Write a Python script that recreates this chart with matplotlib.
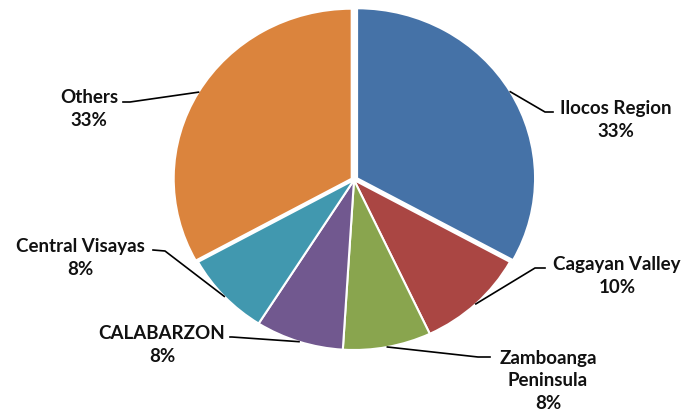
import matplotlib.pyplot as plt
import numpy as np

regions = ['Ilocos Region', 'Cagayan Valley', 'Zamboanga\nPeninsula',
           'CALABARZON', 'Central Visayas', 'Others']
shares = [33, 10, 8, 8, 8, 33]
colors = ['#4572A7', '#AA4643', '#89A54E', '#71588F', '#4198AF', '#DB843D']
explode = [0.02, 0, 0, 0, 0, 0.015]

# label layout in image pixels (x from left, y from top): text centre, elbow point
text_px = [(616, 120), (617, 276), (548, 381), (162, 345), (80, 258), (89, 109)]
elbow_px = [(545, 112), (535, 268), (478, 357), (232, 337), (165, 251), (130, 102)]
end_px = [(553, 112), (545, 268), (490, 357), (230, 337), (153, 250), (123, 102)]

W, H = 690, 420
cx, cy, rx, ry = 354, 180, 178, 170

fig = plt.figure(figsize=(6.9, 4.2), dpi=100)
ax = fig.add_axes([(cx - rx) / W, (H - cy - ry) / H, 2 * rx / W, 2 * ry / H])

wedges, _ = ax.pie(shares, colors=colors, explode=explode, startangle=90,
                   counterclock=False, radius=1,
                   wedgeprops=dict(edgecolor='white', linewidth=1.5))
ax.set_aspect('auto')
ax.set_xlim(-1, 1)
ax.set_ylim(-1, 1)
ax.axis('off')


def to_data(p):
    return ((p[0] - cx) / rx, (cy - p[1]) / ry)


for i, w in enumerate(wedges):
    ang = np.deg2rad((w.theta1 + w.theta2) / 2)
    ox, oy = w.center
    edge = (ox + np.cos(ang), oy + np.sin(ang))
    e = to_data(elbow_px[i])
    f = to_data(end_px[i])
    ax.plot([edge[0], e[0], f[0]], [edge[1], e[1], f[1]], color='black',
            lw=1.2, clip_on=False)
    t = to_data(text_px[i])
    ax.text(t[0], t[1], f'{regions[i]}\n{shares[i]}%', ha='center', va='center',
            fontsize=13.5, fontweight='bold', family='Lato', linespacing=1.4,
            color='#111111')

fig.savefig('out.png', dpi=100)
